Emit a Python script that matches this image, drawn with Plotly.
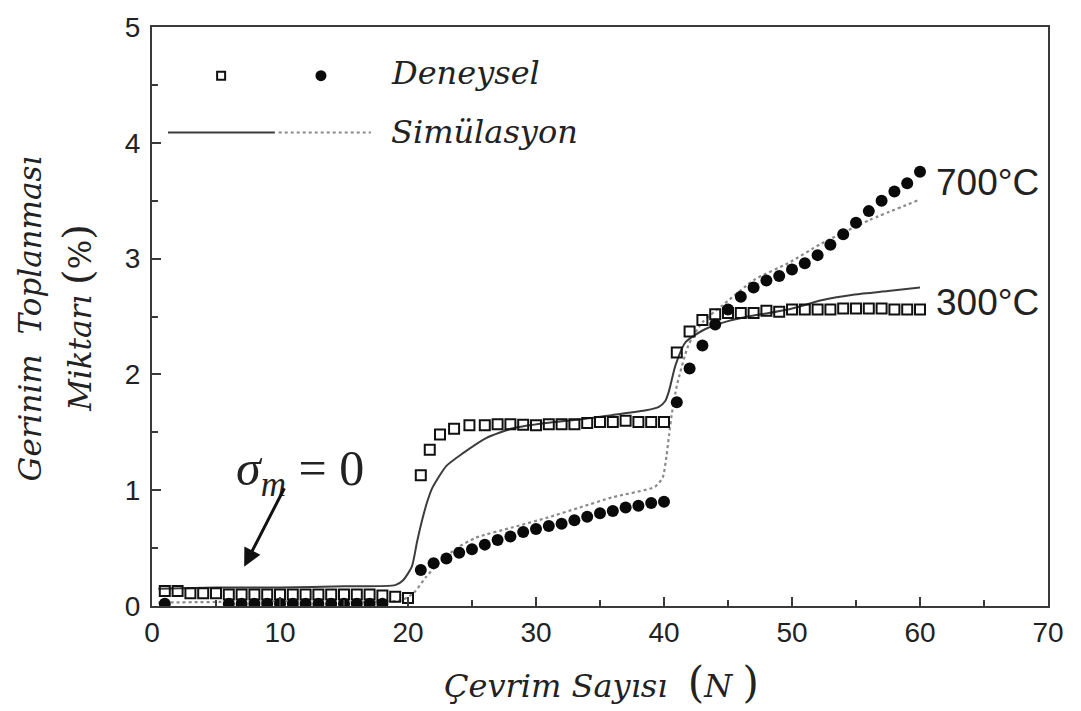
import plotly.graph_objects as go

# --- Experimental data (Deneysel) ---
# 300 °C, open squares
x_300 = [1, 2, 3, 4, 5, 6, 7, 8, 9, 10, 11, 12, 13, 14, 15, 16, 17, 18, 19, 20,
         21, 21.7, 22.5, 23.6, 24.8, 26, 27, 28, 29, 30, 31, 32, 33, 34, 35, 36, 37, 38, 39, 40,
         41, 42, 43, 44, 45, 46, 47, 48, 49, 50, 51, 52, 53, 54, 55, 56, 57, 58, 59, 60]
y_300 = [0.13, 0.13, 0.11, 0.11, 0.11, 0.10, 0.10, 0.10, 0.10, 0.10, 0.10, 0.10, 0.10, 0.10,
         0.10, 0.10, 0.10, 0.09, 0.08, 0.07,
         1.13, 1.35, 1.48, 1.53, 1.56, 1.56, 1.57, 1.57, 1.565, 1.56, 1.57, 1.57, 1.57, 1.58,
         1.59, 1.59, 1.60, 1.59, 1.59, 1.59,
         2.19, 2.37, 2.47, 2.52, 2.53, 2.53, 2.53, 2.55, 2.54, 2.56, 2.56, 2.56, 2.56, 2.57,
         2.57, 2.57, 2.57, 2.56, 2.56, 2.56]

# 700 °C, filled circles
x_700 = [1, 6, 7, 8, 9, 10, 11, 12, 13, 14, 15, 16, 17, 18,
         21, 22, 23, 24, 25, 26, 27, 28, 29, 30, 31, 32, 33, 34, 35, 36, 37, 38, 39, 40,
         41, 42, 43, 44, 45, 46, 47, 48, 49, 50, 51, 52, 53, 54, 55, 56, 57, 58, 59, 60]
y_700 = [0.02, 0.02, 0.02, 0.02, 0.02, 0.02, 0.02, 0.02, 0.02, 0.02, 0.02, 0.02, 0.02, 0.02,
         0.31, 0.37, 0.41, 0.46, 0.49, 0.53, 0.57, 0.60, 0.64, 0.665, 0.69, 0.71, 0.74, 0.77,
         0.80, 0.82, 0.85, 0.865, 0.89, 0.90,
         1.76, 2.05, 2.25, 2.43, 2.56, 2.67, 2.75, 2.81, 2.85, 2.905, 2.96, 3.03, 3.12, 3.21,
         3.31, 3.41, 3.50, 3.58, 3.65, 3.75]

# --- Simulation curves (Simülasyon) ---
sx_300 = [0.5, 5, 10, 15, 19, 19.6, 20.3, 20.7, 21.1, 21.5, 21.9, 23, 24.3, 26.1, 28.2, 30.8,
          33.4, 36, 38.6, 39.6, 40.1, 40.4, 40.9, 41.7, 43.2, 45, 47.1, 49.7, 52.3, 54.9, 57.5, 60]
sy_300 = [0.15, 0.16, 0.16, 0.17, 0.18, 0.22, 0.34, 0.55, 0.74, 0.90, 1.02, 1.21, 1.32, 1.45,
          1.535, 1.58, 1.61, 1.65, 1.69, 1.72, 1.77, 1.86, 2.08, 2.28, 2.39, 2.46, 2.51, 2.56,
          2.64, 2.69, 2.72, 2.75]

sx_700 = [0.5, 10, 19.5, 20.5, 21.4, 22.5, 23.8, 25.3, 28.2, 30.8, 33.4, 36, 39.3, 39.9, 40.2,
          40.4, 40.6, 41, 41.9, 43, 44.5, 47.1, 49.7, 52.3, 56, 60]
sy_700 = [0.03, 0.04, 0.05, 0.12, 0.25, 0.38, 0.50, 0.59, 0.68, 0.76, 0.85, 0.94, 1.03, 1.11,
          1.30, 1.48, 1.65, 1.90, 2.25, 2.45, 2.59, 2.82, 2.96, 3.13, 3.33, 3.51]

x_ticks = [0, 10, 20, 30, 40, 50, 60, 70]
y_ticks = [0, 1, 2, 3, 4, 5]

SERIF = "DejaVu Serif"
MATH = "Liberation Serif"
SANS = "Liberation Sans"
AXIS_COLOR = "#3a3a3a"
NB = "\u00a0"

fig = go.Figure()

fig.add_trace(go.Scatter(x=sx_300, y=sy_300, mode="lines",
                         line=dict(color="#3c3c3c", width=2, shape="spline", smoothing=0.6),
                         showlegend=False, hoverinfo="skip"))
fig.add_trace(go.Scatter(x=sx_700, y=sy_700, mode="lines",
                         line=dict(color="#8a8a8a", width=2.2, dash="dot", shape="spline", smoothing=0.6),
                         showlegend=False, hoverinfo="skip"))
fig.add_trace(go.Scatter(x=x_300, y=y_300, mode="markers",
                         marker=dict(symbol="square-open", size=10, color="#111111",
                                     line=dict(width=2, color="#111111")),
                         showlegend=False))
fig.add_trace(go.Scatter(x=x_700, y=y_700, mode="markers",
                         marker=dict(symbol="circle", size=12, color="#0a0a0a"),
                         showlegend=False))

# Hand-drawn legend block in the upper-left corner
fig.add_trace(go.Scatter(x=[5.4], y=[4.58], mode="markers",
                         marker=dict(symbol="square-open", size=8, color="#111111",
                                     line=dict(width=2, color="#111111")),
                         showlegend=False, hoverinfo="skip"))
fig.add_trace(go.Scatter(x=[13.2], y=[4.58], mode="markers",
                         marker=dict(symbol="circle", size=11, color="#0a0a0a"),
                         showlegend=False, hoverinfo="skip"))
fig.add_shape(type="line", x0=1.25, x1=9.6, y0=4.09, y1=4.09, xref="x", yref="y",
              line=dict(color="#3c3c3c", width=2))
fig.add_shape(type="line", x0=9.9, x1=17.1, y0=4.09, y1=4.09, xref="x", yref="y",
              line=dict(color="#8a8a8a", width=2, dash="dot"))
fig.add_annotation(x=18.5, y=4.6, xref="x", yref="y", text="<i>Deneysel</i>", showarrow=False,
                   xanchor="left", yanchor="middle", font=dict(family=SERIF, size=32, color="#222"))
fig.add_annotation(x=18.5, y=4.09, xref="x", yref="y", text="<i>Simülasyon</i>", showarrow=False,
                   xanchor="left", yanchor="middle", font=dict(family=SERIF, size=32, color="#222"))

# Temperature labels
fig.add_annotation(x=61.1, y=3.66, xref="x", yref="y", text="700°C", showarrow=False,
                   xanchor="left", yanchor="middle", font=dict(family=SANS, size=37, color="#222"))
fig.add_annotation(x=61.1, y=2.62, xref="x", yref="y", text="300°C", showarrow=False,
                   xanchor="left", yanchor="middle", font=dict(family=SANS, size=37, color="#222"))

# Mean stress note with arrow
fig.add_annotation(x=11.6, y=1.16, xref="x", yref="y",
                   text=f"<i>σ</i><sub><i>m</i></sub>{NB}={NB}0", showarrow=False,
                   xanchor="center", yanchor="middle", font=dict(family=MATH, size=50, color="#222"))
fig.add_annotation(x=7.2, y=0.34, ax=10.4, ay=1.03, xref="x", yref="y", axref="x", ayref="y",
                   text="", showarrow=True, arrowhead=2, arrowsize=1.2, arrowwidth=3,
                   arrowcolor="#111")

# Axis titles
fig.add_annotation(x=-0.136, y=0.497, xref="paper", yref="paper",
                   text=f"<i>Gerinim{NB}{NB}Toplanması</i>", textangle=-90, showarrow=False,
                   xanchor="center", yanchor="middle", font=dict(family=SERIF, size=31, color="#222"))
fig.add_annotation(x=-0.083, y=0.497, xref="paper", yref="paper",
                   text="<i>Miktarı</i> <span style='font-size:40px'>(</span>%<span style='font-size:40px'>)</span>",
                   textangle=-90, showarrow=False,
                   xanchor="center", yanchor="middle", font=dict(family=SERIF, size=31, color="#222"))
fig.add_annotation(x=0.502, y=-0.132, xref="paper", yref="paper",
                   text="<i>Çevrim Sayısı</i>  <span style='font-size:42px'>(</span><i>N</i> <span style='font-size:42px'>)</span>",
                   showarrow=False, xanchor="center", yanchor="middle",
                   font=dict(family=SERIF, size=32, color="#222"))

fig.update_xaxes(range=[0, 70], tickvals=x_ticks, ticktext=[str(v) for v in x_ticks],
                 ticks="inside", ticklen=9, tickwidth=2, tickcolor=AXIS_COLOR,
                 minor=dict(dtick=5, ticks="inside", ticklen=6, tickwidth=2, tickcolor=AXIS_COLOR),
                 showline=True, linecolor=AXIS_COLOR, linewidth=2, mirror=True,
                 showgrid=False, zeroline=False,
                 tickfont=dict(family=SANS, size=28, color="#222"))
fig.update_yaxes(range=[0, 5], tickvals=y_ticks, ticktext=[str(v) for v in y_ticks],
                 ticks="inside", ticklen=9, tickwidth=2, tickcolor=AXIS_COLOR,
                 minor=dict(dtick=0.5, ticks="inside", ticklen=6, tickwidth=2, tickcolor=AXIS_COLOR),
                 showline=True, linecolor=AXIS_COLOR, linewidth=2, mirror=True,
                 showgrid=False, zeroline=False, ticklabelstandoff=4,
                 tickfont=dict(family=SANS, size=28, color="#222"))

fig.update_layout(width=1081, height=711, margin=dict(l=152, r=33, t=22, b=105),
                  plot_bgcolor="white", paper_bgcolor="white", showlegend=False)

fig.write_html("out.html")
